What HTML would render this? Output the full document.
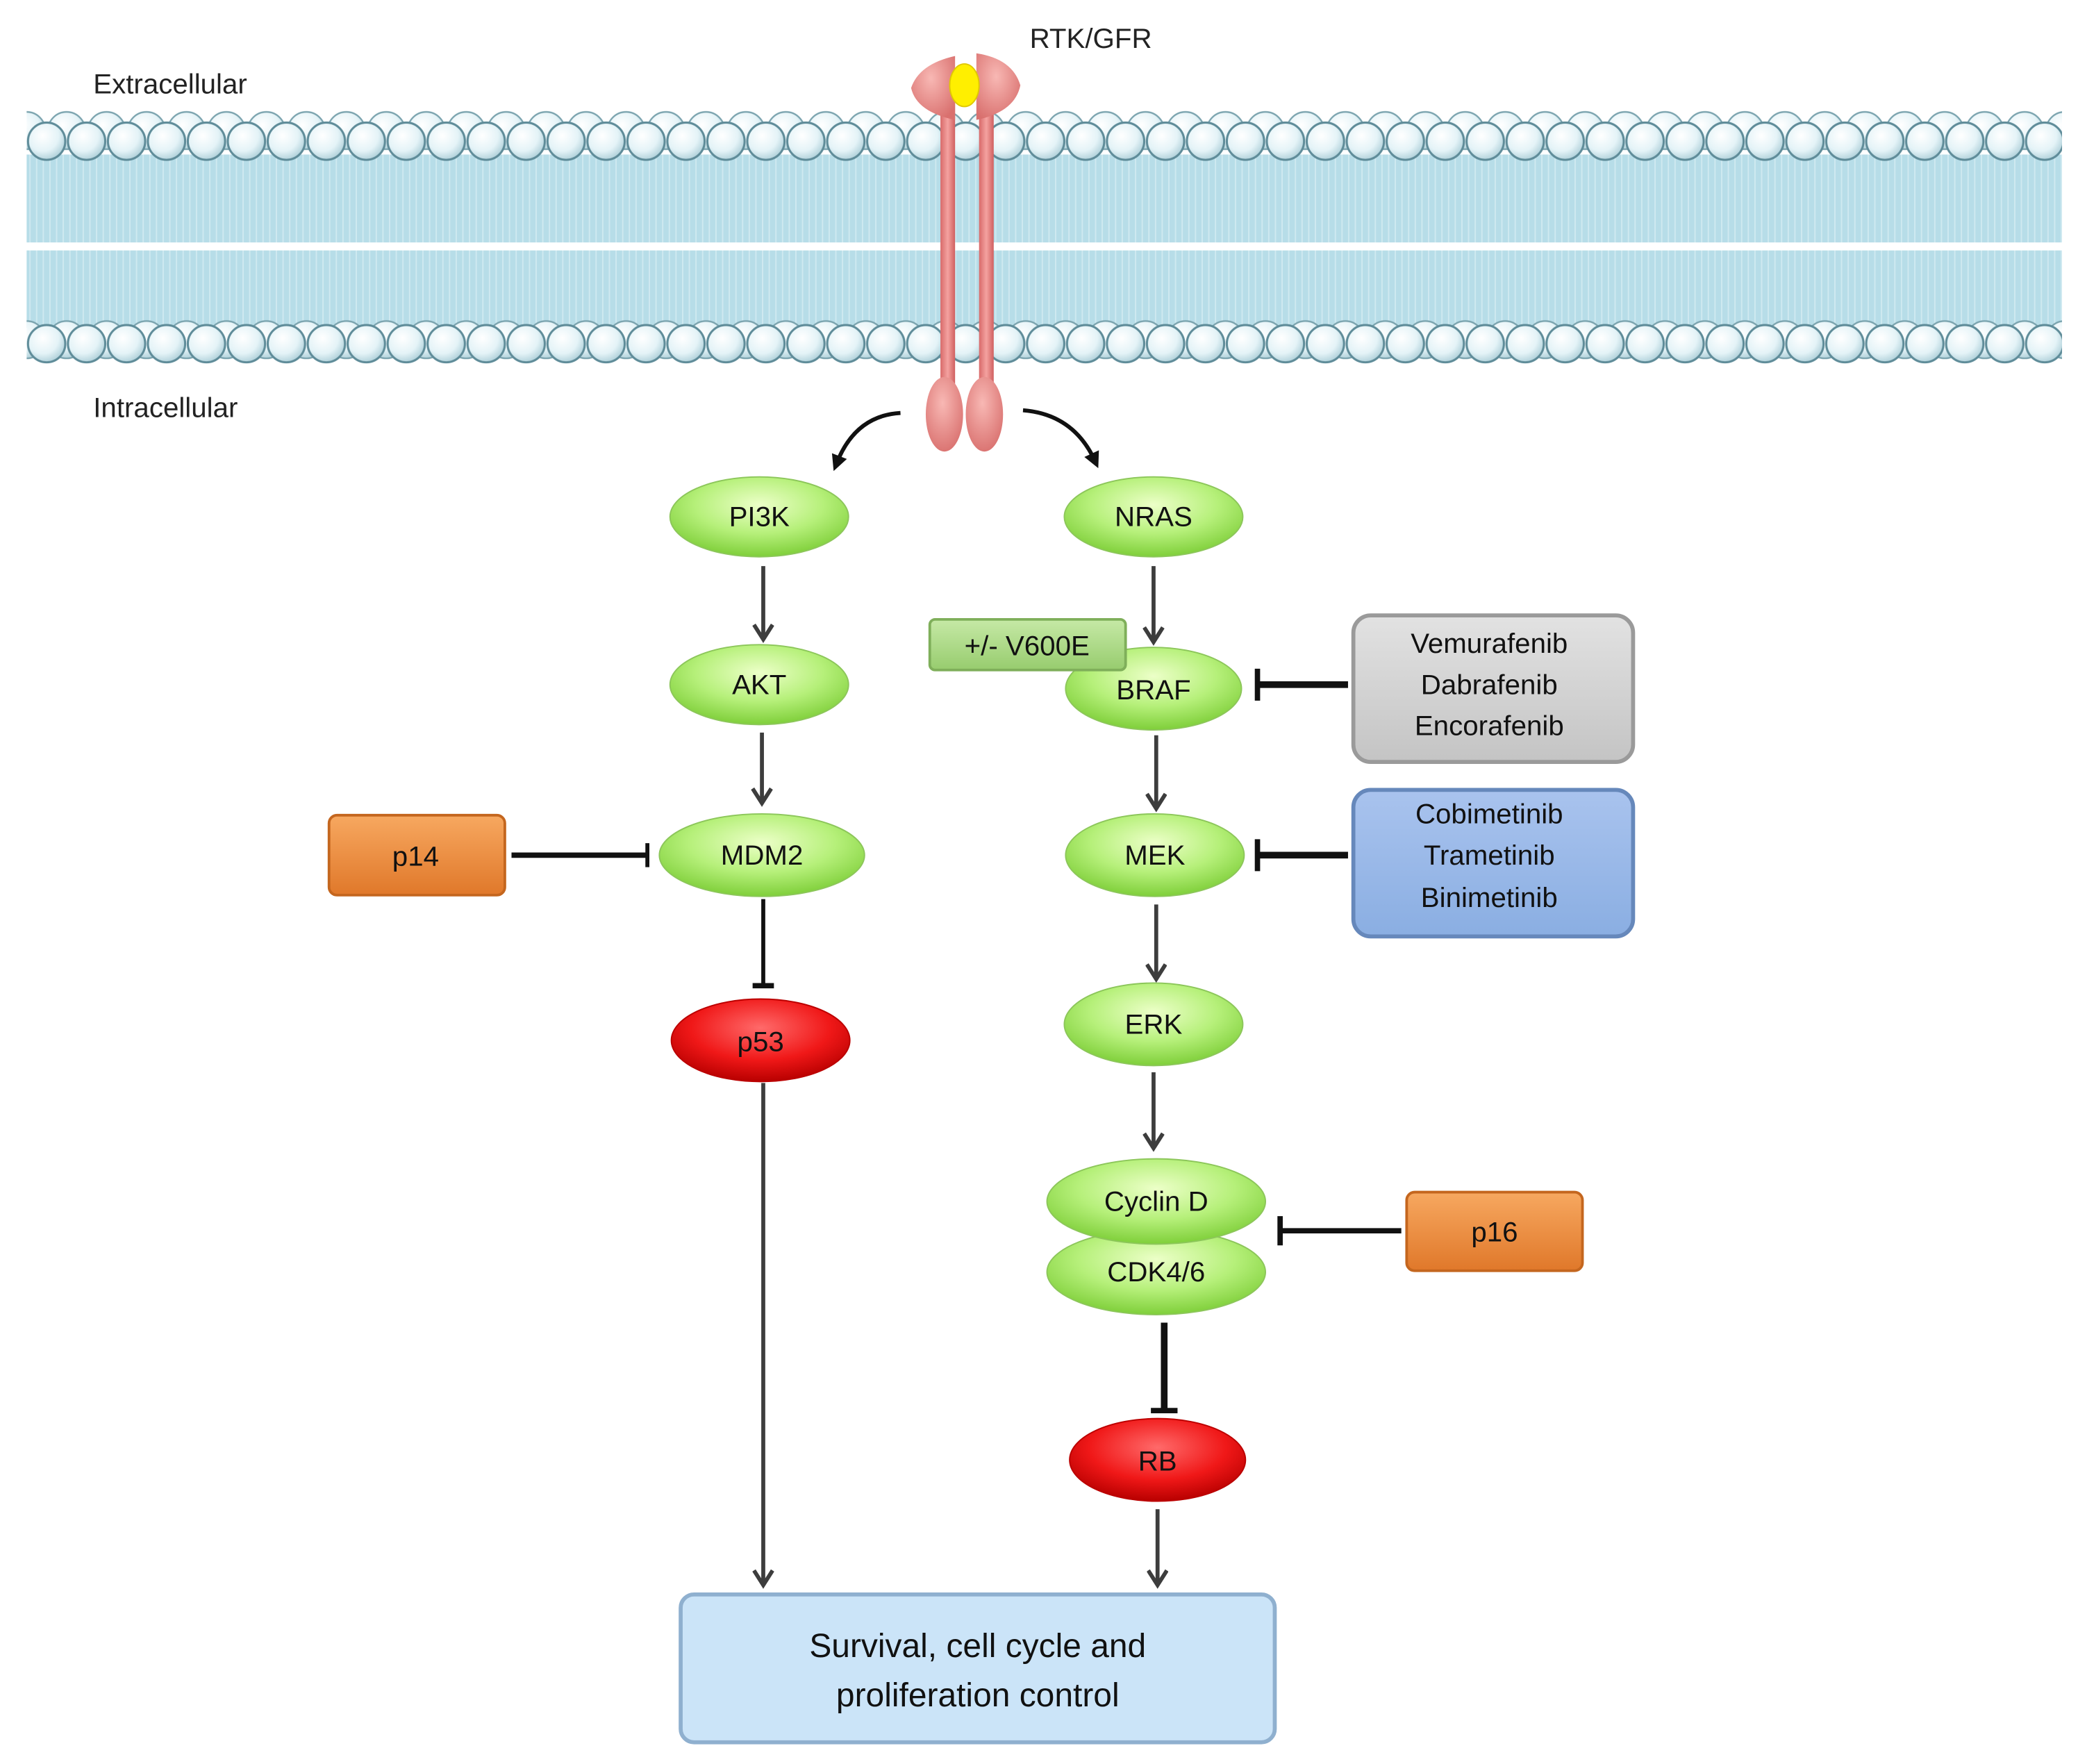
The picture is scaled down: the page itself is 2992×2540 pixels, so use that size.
<!DOCTYPE html>
<html><head><meta charset="utf-8"><style>html,body{margin:0;padding:0;background:#fff}svg{display:block}</style></head>
<body>
<svg width="2992" height="2540" viewBox="0 0 1560 1324.3" xmlns="http://www.w3.org/2000/svg" font-family="Liberation Sans, sans-serif">
<defs>
<radialGradient id="head" cx="0.4" cy="0.35" r="0.7"><stop offset="0" stop-color="#ffffff"/><stop offset="0.6" stop-color="#e4f3f7"/><stop offset="1" stop-color="#a9ccd6"/></radialGradient>
<pattern id="headsA" x="20" y="91" width="30" height="500" patternUnits="userSpaceOnUse">
<circle cx="15" cy="15" r="14" fill="url(#head)" stroke="#5f8c99" stroke-width="1.6"/>
</pattern>
<pattern id="headsA2" x="35" y="83" width="30" height="500" patternUnits="userSpaceOnUse">
<circle cx="15" cy="15" r="14" fill="url(#head)" stroke="#7aa3ae" stroke-width="1.2"/>
</pattern>
<pattern id="headsB" x="20" y="243" width="30" height="500" patternUnits="userSpaceOnUse">
<circle cx="15" cy="15" r="14" fill="url(#head)" stroke="#5f8c99" stroke-width="1.6"/>
</pattern>
<pattern id="headsB2" x="35" y="240" width="30" height="500" patternUnits="userSpaceOnUse">
<circle cx="15" cy="15" r="14" fill="url(#head)" stroke="#7aa3ae" stroke-width="1.2"/>
</pattern>
<pattern id="tails" x="0" y="0" width="5" height="400" patternUnits="userSpaceOnUse">
<rect width="5" height="400" fill="#b7dde8"/><line x1="2.5" y1="0" x2="2.5" y2="400" stroke="#cfe9f0" stroke-width="1"/>
</pattern>
<radialGradient id="green" cx="0.5" cy="0.35" r="0.65"><stop offset="0" stop-color="#ecffc8"/><stop offset="0.55" stop-color="#b6f07a"/><stop offset="1" stop-color="#7fcf3a"/></radialGradient>
<radialGradient id="red" cx="0.5" cy="0.35" r="0.65"><stop offset="0" stop-color="#ff6a6a"/><stop offset="0.6" stop-color="#f01818"/><stop offset="1" stop-color="#b80000"/></radialGradient>
<linearGradient id="orange" x1="0" y1="0" x2="0" y2="1"><stop offset="0" stop-color="#f7a860"/><stop offset="1" stop-color="#e0782a"/></linearGradient>
<linearGradient id="gray" x1="0" y1="0" x2="0" y2="1"><stop offset="0" stop-color="#e2e2e2"/><stop offset="1" stop-color="#c4c4c4"/></linearGradient>
<linearGradient id="blue" x1="0" y1="0" x2="0" y2="1"><stop offset="0" stop-color="#a9c3ee"/><stop offset="1" stop-color="#8aaee2"/></linearGradient>
<linearGradient id="v6" x1="0" y1="0" x2="0" y2="1"><stop offset="0" stop-color="#c6e9a6"/><stop offset="1" stop-color="#97cc6e"/></linearGradient>
<linearGradient id="rod" x1="0" y1="0" x2="1" y2="0"><stop offset="0" stop-color="#d86a6a"/><stop offset="0.5" stop-color="#f4a2a0"/><stop offset="1" stop-color="#d06060"/></linearGradient>
<radialGradient id="pink" cx="0.45" cy="0.35" r="0.7"><stop offset="0" stop-color="#f8b8b4"/><stop offset="1" stop-color="#d9706e"/></radialGradient>
<marker id="ar" markerWidth="16" markerHeight="16" refX="13" refY="8" orient="auto" markerUnits="userSpaceOnUse" viewBox="0 0 16 16"><path d="M2 1 L13 8 L2 15" fill="none" stroke="#3d3d3d" stroke-width="3"/></marker>
<marker id="arb" markerWidth="14" markerHeight="14" refX="7" refY="7" orient="auto" markerUnits="userSpaceOnUse" viewBox="0 0 14 14"><path d="M1 1 L13 7 L1 13 Z" fill="#111"/></marker>
</defs>

<!-- membrane -->
<rect x="20" y="116" width="1528" height="66" fill="url(#tails)"/>
<rect x="20" y="188" width="1528" height="58" fill="url(#tails)"/>
<rect x="20" y="83" width="1528" height="31" fill="url(#headsA2)"/>
<rect x="20" y="91" width="1528" height="31" fill="url(#headsA)"/>
<rect x="20" y="240" width="1528" height="31" fill="url(#headsB2)"/>
<rect x="20" y="243" width="1528" height="31" fill="url(#headsB)"/>

<text x="70" y="70" font-size="21" fill="#222">Extracellular</text>
<text x="70" y="313" font-size="21" fill="#222">Intracellular</text>
<text x="773" y="36" font-size="21" fill="#222">RTK/GFR</text>

<!-- receptor -->
<rect x="706" y="72" width="11" height="240" fill="url(#rod)"/>
<rect x="735" y="72" width="11" height="240" fill="url(#rod)"/>
<path d="M717 42 Q690 48 684 66 Q688 84 717 90 Z" fill="url(#pink)"/>
<path d="M733 40 Q760 44 766 64 Q762 84 733 90 Z" fill="url(#pink)"/>
<ellipse cx="724" cy="64" rx="11" ry="16" fill="#ffef00" stroke="#e0c800"/>
<ellipse cx="709" cy="311" rx="14" ry="28" fill="url(#pink)"/>
<ellipse cx="739" cy="311" rx="14" ry="28" fill="url(#pink)"/>
<path d="M676 310 Q642 312 628 348" fill="none" stroke="#111" stroke-width="3" marker-end="url(#arb)"/>
<path d="M768 308 Q806 311 822 346" fill="none" stroke="#111" stroke-width="3" marker-end="url(#arb)"/>

<!-- connectors -->
<g stroke="#3d3d3d" stroke-width="3" fill="none">
<line x1="573" y1="425" x2="573" y2="480" marker-end="url(#ar)"/>
<line x1="572" y1="550" x2="572" y2="603" marker-end="url(#ar)"/>
<line x1="573" y1="813" x2="573" y2="1190" marker-end="url(#ar)"/>
<line x1="866" y1="425" x2="866" y2="482" marker-end="url(#ar)"/>
<line x1="868" y1="552" x2="868" y2="607" marker-end="url(#ar)"/>
<line x1="868" y1="679" x2="868" y2="735" marker-end="url(#ar)"/>
<line x1="866" y1="805" x2="866" y2="862" marker-end="url(#ar)"/>
<line x1="869" y1="1133" x2="869" y2="1190" marker-end="url(#ar)"/>
</g>
<g stroke="#111" fill="none">
<line x1="573" y1="675" x2="573" y2="740" stroke-width="3"/><line x1="565" y1="740" x2="581" y2="740" stroke-width="4"/>
<line x1="384" y1="642" x2="486" y2="642" stroke-width="4"/><line x1="486" y1="633" x2="486" y2="651" stroke-width="3"/>
<line x1="944" y1="514" x2="1012" y2="514" stroke-width="5"/><line x1="944" y1="502" x2="944" y2="526" stroke-width="4"/>
<line x1="944" y1="642" x2="1012" y2="642" stroke-width="5"/><line x1="944" y1="630" x2="944" y2="654" stroke-width="4"/>
<line x1="961" y1="924" x2="1052" y2="924" stroke-width="4"/><line x1="961" y1="913" x2="961" y2="935" stroke-width="4"/>
<line x1="874" y1="993" x2="874" y2="1058" stroke-width="5"/><line x1="864" y1="1059" x2="884" y2="1059" stroke-width="4"/>
</g>

<!-- nodes -->
<g font-size="21" fill="#111" text-anchor="middle">
<ellipse cx="570" cy="388" rx="67" ry="30" fill="url(#green)" stroke="#8cc65a"/><text x="570" y="395">PI3K</text>
<ellipse cx="866" cy="388" rx="67" ry="30" fill="url(#green)" stroke="#8cc65a"/><text x="866" y="395">NRAS</text>
<ellipse cx="570" cy="514" rx="67" ry="30" fill="url(#green)" stroke="#8cc65a"/><text x="570" y="521">AKT</text>
<ellipse cx="866" cy="517" rx="66" ry="31" fill="url(#green)" stroke="#8cc65a"/><text x="866" y="525">BRAF</text>
<ellipse cx="572" cy="642" rx="77" ry="31" fill="url(#green)" stroke="#8cc65a"/><text x="572" y="649">MDM2</text>
<ellipse cx="867" cy="642" rx="67" ry="31" fill="url(#green)" stroke="#8cc65a"/><text x="867" y="649">MEK</text>
<ellipse cx="571" cy="781" rx="67" ry="31" fill="url(#red)" stroke="#b00"/><text x="571" y="789">p53</text>
<ellipse cx="866" cy="769" rx="67" ry="31" fill="url(#green)" stroke="#8cc65a"/><text x="866" y="776">ERK</text>
<ellipse cx="868" cy="955" rx="82" ry="32" fill="url(#green)" stroke="#8cc65a"/><text x="868" y="962">CDK4/6</text>
<ellipse cx="868" cy="902" rx="82" ry="32" fill="url(#green)" stroke="#8cc65a"/><text x="868" y="909">Cyclin D</text>
<ellipse cx="869" cy="1096" rx="66" ry="31" fill="url(#red)" stroke="#b00"/><text x="869" y="1104">RB</text>

<rect x="698" y="465" width="147" height="38" rx="4" fill="url(#v6)" stroke="#7faf5a" stroke-width="2"/><text x="771" y="492">+/- V600E</text>
<rect x="247" y="612" width="132" height="60" rx="6" fill="url(#orange)" stroke="#c4661e" stroke-width="2"/><text x="312" y="650">p14</text>
<rect x="1056" y="895" width="132" height="59" rx="6" fill="url(#orange)" stroke="#c4661e" stroke-width="2"/><text x="1122" y="932">p16</text>
<rect x="1016" y="462" width="210" height="110" rx="13" fill="url(#gray)" stroke="#9a9a9a" stroke-width="3"/>
<text x="1118" y="490">Vemurafenib</text><text x="1118" y="521">Dabrafenib</text><text x="1118" y="552">Encorafenib</text>
<rect x="1016" y="593" width="210" height="110" rx="13" fill="url(#blue)" stroke="#6688bb" stroke-width="3"/>
<text x="1118" y="618">Cobimetinib</text><text x="1118" y="649">Trametinib</text><text x="1118" y="681">Binimetinib</text>
<rect x="511" y="1197" width="446" height="111" rx="10" fill="#cbe4f8" stroke="#8fb0cf" stroke-width="3"/>
<text x="734" y="1244" font-size="25">Survival, cell cycle and</text>
<text x="734" y="1281" font-size="25">proliferation control</text>
</g>
</svg>
</body></html>
